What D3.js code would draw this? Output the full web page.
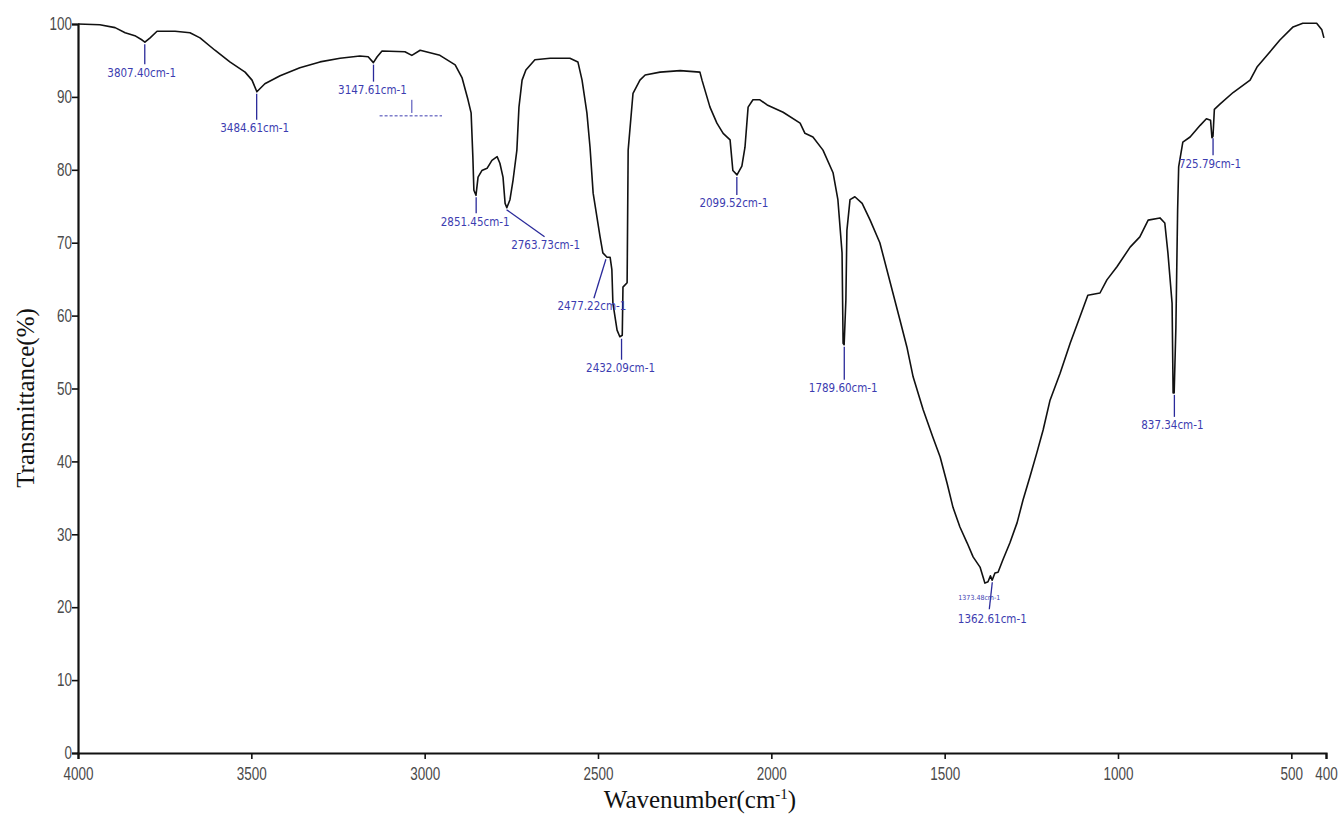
<!DOCTYPE html>
<html>
<head>
<meta charset="utf-8">
<script src="https://cdn.jsdelivr.net/npm/d3@7.9.0/dist/d3.min.js"></script>
<style>
  body { margin: 0; background: #fff; }
  svg { display: block; }
  .tick text { font-family: "Liberation Sans", Arial, sans-serif; font-size: 18px; fill: #4a4a4a; }
  .peak-label { font-family: "Liberation Sans Narrow", "DejaVu Sans Condensed", sans-serif; font-size: 11.5px; fill: #3c3cb0; }
  .axis-title { font-family: "Liberation Serif", "Times New Roman", serif; font-size: 25px; fill: #111; }
</style>
</head>
<body>
<svg id="chart" width="1340" height="816"></svg>
<script>
// FTIR spectrum
const wavenumber = [
  4000, 3937, 3893, 3864, 3836, 3815, 3807, 3792, 3772, 3720, 3677, 3648, 3605, 3562, 3518, 3498,
  3484, 3461, 3417, 3360, 3302, 3244, 3187, 3163, 3148, 3137, 3123, 3057, 3037, 3013, 2956, 2912,
  2892, 2875, 2866, 2861, 2858, 2852, 2846, 2835, 2820, 2806, 2791, 2783, 2774, 2768, 2763, 2754,
  2745, 2734, 2728, 2719, 2708, 2682, 2638, 2581, 2558, 2546, 2532, 2523, 2514, 2494, 2486, 2474,
  2465, 2460, 2457, 2445, 2437, 2430, 2428, 2416, 2413, 2399, 2379, 2364, 2321, 2263, 2206, 2200,
  2177, 2157, 2139, 2119, 2111, 2099, 2085, 2076, 2067, 2053, 2033, 2012, 1966, 1917, 1903, 1880,
  1851, 1822, 1808, 1796, 1793, 1790, 1785, 1782, 1773, 1759, 1738, 1715, 1687, 1629, 1609, 1591,
  1562, 1534, 1513, 1493, 1476, 1456, 1435, 1418, 1398, 1389, 1384, 1375, 1368, 1363, 1355, 1346,
  1332, 1312, 1291, 1274, 1254, 1234, 1216, 1196, 1167, 1138, 1110, 1087, 1052, 1032, 1003, 965,
  937, 913, 879, 865, 856, 844, 841, 838, 833, 828, 825, 813, 792, 763, 745, 733,
  729, 726, 722, 706, 668, 619, 599, 570, 533, 495, 467, 427, 412, 406
];
const transmittance = [
  100.0, 99.9, 99.5, 98.8, 98.4, 97.8, 97.5, 98.1, 99.0, 99.0, 98.8, 98.1, 96.4, 94.8, 93.4, 92.3,
  90.7, 91.8, 92.9, 94.0, 94.8, 95.3, 95.6, 95.5, 94.7, 95.5, 96.3, 96.2, 95.7, 96.4, 95.7, 94.4,
  92.6, 89.6, 87.8, 81.8, 77.2, 76.5, 79.0, 79.9, 80.2, 81.3, 81.8, 80.9, 79.0, 75.4, 74.8, 75.9,
  78.6, 82.7, 88.6, 92.3, 93.7, 95.1, 95.3, 95.3, 94.8, 92.3, 87.8, 83.1, 76.8, 70.8, 68.6, 68.0,
  68.0, 66.3, 61.7, 58.0, 57.1, 57.3, 63.9, 64.5, 82.7, 90.5, 92.3, 93.0, 93.4, 93.6, 93.4, 92.3,
  88.6, 86.4, 85.0, 84.1, 79.9, 79.3, 80.5, 83.1, 88.6, 89.6, 89.6, 88.9, 87.9, 86.4, 85.0, 84.5,
  82.7, 79.6, 75.9, 68.6, 56.2, 56.0, 62.1, 71.7, 75.9, 76.3, 75.4, 73.1, 70.0, 59.4, 55.7, 51.6,
  47.1, 43.3, 40.6, 37.0, 33.7, 31.0, 28.8, 26.9, 25.5, 24.1, 23.3, 23.5, 24.3, 23.7, 24.7, 24.8,
  26.5, 28.8, 31.6, 34.7, 37.9, 41.2, 44.3, 48.4, 52.1, 56.2, 59.8, 62.8, 63.1, 64.9, 66.7, 69.4,
  70.8, 73.1, 73.4, 72.7, 68.6, 61.7, 49.4, 49.4, 58.4, 74.5, 80.4, 83.8, 84.5, 86.1, 87.0, 86.8,
  84.4, 84.6, 88.3, 89.0, 90.6, 92.3, 94.1, 95.7, 97.8, 99.6, 100.1, 100.1, 99.2, 98.1
];

const xTicks = [4000, 3500, 3000, 2500, 2000, 1500, 1000, 500, 400];
const yTicks = [0, 10, 20, 30, 40, 50, 60, 70, 80, 90, 100];

const peakWavenumber = [3807.40, 3484.61, 3147.61, 2851.45, 2763.73, 2477.22, 2432.09, 2099.52, 1789.60, 1362.61, 837.34, 725.79];
const peakTransmittance = [97.5, 90.7, 94.7, 76.5, 74.8, 68.0, 57.1, 79.3, 56.0, 23.7, 49.4, 84.6];
const peakLabels = ["3807.40cm-1", "3484.61cm-1", "3147.61cm-1", "2851.45cm-1", "2763.73cm-1", "2477.22cm-1",
  "2432.09cm-1", "2099.52cm-1", "1789.60cm-1", "1362.61cm-1", "837.34cm-1", "725.79cm-1"];

// leader line end and text centre, relative to the peak tip (px)
const peakLayout = [
  [0, 20, -3, 29], [0, 26, -2, 35], [0, 17, -1, 26], [0, 16, -1, 25],
  [38, 27, 39, 36], [-12, 39, -14, 47], [0, 21, -1, 30], [0, 18, -3, 27],
  [0, 33, -1, 42], [-3, 27, 0, 37], [0, 22, -2, 31], [0, 17, -3, 26]
];

const svg = d3.select('#chart');

const x = d3.scaleLinear().domain([4000, 400]).range([78, 1326]);
const y = d3.scaleLinear().domain([0, 100]).range([753, 24]);

// axes
const xAxis = svg.append('g')
  .attr('transform', `translate(0,${y(0)})`)
  .call(d3.axisBottom(x).tickValues(xTicks).tickSize(6).tickPadding(8).tickFormat(d3.format('d')));
const yAxis = svg.append('g')
  .attr('transform', `translate(${x(4000)},0)`)
  .call(d3.axisLeft(y).tickValues(yTicks).tickSize(6).tickPadding(2));

[xAxis, yAxis].forEach((g) => {
  g.select('.domain').attr('stroke', '#111').attr('stroke-width', 2.2);
  g.selectAll('.tick line').attr('stroke', '#111').attr('stroke-width', 1.6);
  // the print uses a tall condensed face for the numbers
  g.selectAll('.tick text').attr('transform', 'scale(0.75,1)');
});

// spectrum
const spectrum = wavenumber.map((w, i) => [w, transmittance[i]]);
svg.append('path')
  .datum(spectrum)
  .attr('fill', 'none')
  .attr('stroke', '#111')
  .attr('stroke-width', 1.6)
  .attr('stroke-linejoin', 'round')
  .attr('d', d3.line().x((d) => x(d[0])).y((d) => y(d[1])));

// peak annotations
const peaks = svg.append('g');
peakWavenumber.forEach((w, i) => {
  const px = x(w);
  const py = y(peakTransmittance[i]) + 2;
  const [ldx, ldy, tdx, tdy] = peakLayout[i];
  peaks.append('line')
    .attr('x1', px).attr('y1', py)
    .attr('x2', px + ldx).attr('y2', py + ldy)
    .attr('stroke', '#2a2a9a')
    .attr('stroke-width', 1.3);
  peaks.append('text')
    .attr('class', 'peak-label')
    .attr('x', px + tdx)
    .attr('y', py + tdy)
    .attr('text-anchor', 'middle')
    .attr('dominant-baseline', 'middle')
    .text(peakLabels[i]);
});

// overlapped leftovers from the instrument print
const ghost = svg.append('g').attr('stroke', '#3c3cb0').attr('stroke-width', 1);
ghost.append('line')
  .attr('x1', x(3130)).attr('x2', x(2950))
  .attr('y1', y(87.4)).attr('y2', y(87.4))
  .attr('stroke-dasharray', '3,2');
ghost.append('line')
  .attr('x1', x(3037)).attr('x2', x(3037))
  .attr('y1', y(89.6)).attr('y2', y(87.8));
svg.append('text')
  .attr('class', 'peak-label')
  .attr('x', x(1400))
  .attr('y', y(21.2))
  .attr('text-anchor', 'middle')
  .attr('dominant-baseline', 'middle')
  .style('font-size', '7px')
  .text('1373.48cm-1');

// axis titles
svg.append('text')
  .attr('class', 'axis-title')
  .attr('transform', 'translate(34,398) rotate(-90)')
  .attr('text-anchor', 'middle')
  .text('Transmittance(%)');

const xt = svg.append('text')
  .attr('class', 'axis-title')
  .attr('x', 700)
  .attr('y', 808)
  .attr('text-anchor', 'middle');
xt.append('tspan').text('Wavenumber(cm');
xt.append('tspan').attr('dy', -9).style('font-size', '15px').text('-1');
xt.append('tspan').attr('dy', 9).text(')');
</script>
</body>
</html>
